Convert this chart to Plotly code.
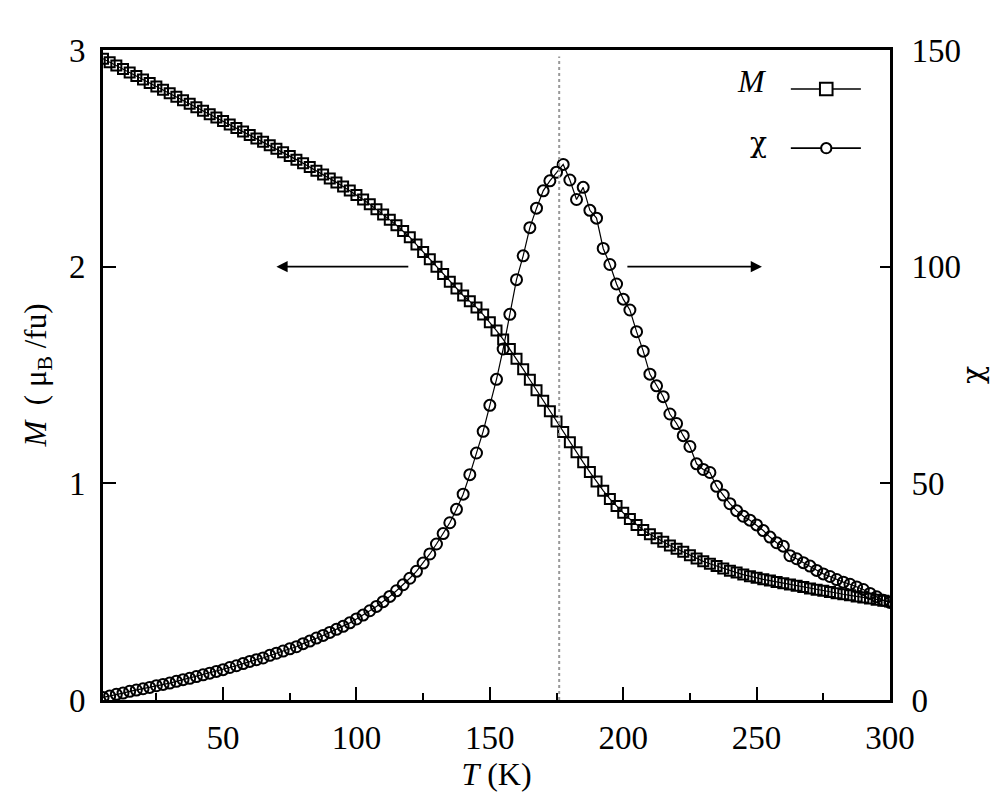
import plotly.graph_objects as go

# ---- data ----
temp_k = [5, 7.5, 10, 12.5, 15, 17.5, 20, 22.5, 25, 27.5, 30, 32.5, 35, 37.5, 40,
          42.5, 45, 47.5, 50, 52.5, 55, 57.5, 60, 62.5, 65, 67.5, 70, 72.5, 75, 77.5,
          80, 82.5, 85, 87.5, 90, 92.5, 95, 97.5, 100, 102.5, 105, 107.5, 110, 112.5,
          115, 117.5, 120, 122.5, 125, 127.5, 130, 132.5, 135, 137.5, 140, 142.5, 145,
          147.5, 150, 152.5, 155, 157.5, 160, 162.5, 165, 167.5, 170, 172.5, 175, 177.5,
          180, 182.5, 185, 187.5, 190, 192.5, 195, 197.5, 200, 202.5, 205, 207.5, 210,
          212.5, 215, 217.5, 220, 222.5, 225, 227.5, 230, 232.5, 235, 237.5, 240, 242.5,
          245, 247.5, 250, 252.5, 255, 257.5, 260, 262.5, 265, 267.5, 270, 272.5, 275,
          277.5, 280, 282.5, 285, 287.5, 290, 292.5, 295, 297.5, 300]

# magnetisation, mu_B per formula unit (left axis)
magnet = [2.960, 2.944, 2.928, 2.912, 2.896, 2.880, 2.864, 2.848, 2.832, 2.816,
          2.800, 2.784, 2.768, 2.752, 2.736, 2.720, 2.704, 2.688, 2.672, 2.656,
          2.640, 2.624, 2.608, 2.592, 2.576, 2.560, 2.544, 2.528, 2.511, 2.494,
          2.477, 2.460, 2.443, 2.425, 2.407, 2.389, 2.370, 2.351, 2.331, 2.310,
          2.288, 2.265, 2.241, 2.216, 2.191, 2.165, 2.136, 2.102, 2.068, 2.034,
          2.000, 1.966, 1.930, 1.899, 1.867, 1.840, 1.812, 1.779, 1.743, 1.705,
          1.664, 1.620, 1.575, 1.527, 1.478, 1.430, 1.381, 1.333, 1.285, 1.237,
          1.190, 1.143, 1.097, 1.052, 1.008, 0.966, 0.928, 0.895, 0.864, 0.835,
          0.808, 0.785, 0.765, 0.747, 0.730, 0.713, 0.698, 0.684, 0.668, 0.653,
          0.640, 0.629, 0.618, 0.607, 0.597, 0.588, 0.579, 0.571, 0.564, 0.557,
          0.551, 0.545, 0.539, 0.533, 0.527, 0.521, 0.515, 0.509, 0.504, 0.498,
          0.493, 0.488, 0.483, 0.478, 0.473, 0.468, 0.463, 0.458, 0.455]

# susceptibility (right axis)
chi = [0.6, 0.9, 1.3, 1.6, 2.0, 2.3, 2.6, 2.9, 3.3, 3.6, 3.9, 4.3, 4.7, 5.0, 5.4,
       5.8, 6.2, 6.6, 7.0, 7.5, 7.9, 8.4, 8.9, 9.3, 9.7, 10.3, 10.8, 11.3, 11.8, 12.3,
       13.0, 13.6, 14.3, 14.9, 15.6, 16.3, 17.0, 17.8, 18.7, 19.6, 20.6, 21.6, 22.7, 23.9,
       25.2, 26.6, 28.1, 29.7, 31.6, 33.7, 36.0, 38.4, 40.9, 44.0, 47.5, 52.0, 57.0,
       62.0, 68.0, 74.0, 81.0, 89.0, 97.0, 102.5, 109.0, 113.5, 117.5, 119.8, 121.8, 123.6,
       120.0, 115.5, 118.3, 113.0, 111.2, 104.2, 100.5, 96.0, 92.5, 90.0, 85.0, 80.5, 75.2,
       72.5, 70.0, 66.0, 63.8, 61.0, 58.5, 54.5, 53.2, 52.5, 49.3, 47.3, 45.3, 43.7,
       42.4, 41.5, 40.4, 39.1, 37.6, 36.3, 35.5, 33.3, 32.6, 31.7, 30.9, 29.9, 29.1,
       28.5, 27.8, 27.2, 26.7, 26.1, 25.5, 24.6, 23.8, 23.0, 22.5]

t_curie = 176  # dotted marker line
x_ticks = [50, 100, 150, 200, 250, 300]
m_ticks = [0, 1, 2, 3]
chi_ticks = [0, 50, 100, 150]

font_fam = "Liberation Serif"
greek_fam = "DejaVu Serif"
ink = "black"

fig = go.Figure()

fig.add_trace(go.Scatter(
    x=temp_k, y=magnet, mode="lines+markers", name="M",
    line=dict(color=ink, width=1.2),
    marker=dict(symbol="square-open", size=10, color=ink, line=dict(width=2)),
    showlegend=False,
))
fig.add_trace(go.Scatter(
    x=temp_k, y=chi, mode="lines+markers", name="χ", yaxis="y2",
    line=dict(color=ink, width=1.2),
    marker=dict(symbol="circle-open", size=11, color=ink, line=dict(width=2)),
    showlegend=False,
))

# dotted vertical line at the transition
fig.add_shape(type="line", xref="x", yref="paper", x0=t_curie, x1=t_curie,
              y0=0, y1=0.99, line=dict(color="#999999", width=2, dash="dot"))

# arrows pointing to each axis
fig.add_annotation(x=70, y=2, ax=120, ay=2, xref="x", yref="y", axref="x", ayref="y",
                   text="", showarrow=True, arrowhead=2, arrowsize=1.4,
                   arrowwidth=1.6, arrowcolor=ink)
fig.add_annotation(x=252, y=2, ax=201, ay=2, xref="x", yref="y", axref="x", ayref="y",
                   text="", showarrow=True, arrowhead=2, arrowsize=1.4,
                   arrowwidth=1.6, arrowcolor=ink)

# hand-made legend: label to the left, symbol on the right
leg_y = [0.94, 0.849]
fig.add_annotation(x=0.846, y=leg_y[0], xref="paper", yref="paper", text="<i>M</i>",
                   showarrow=False, xanchor="right", yanchor="middle", yshift=8,
                   font=dict(size=32, family=font_fam, color=ink))
fig.add_annotation(x=0.846, y=leg_y[1], xref="paper", yref="paper", text="χ",
                   showarrow=False, xanchor="right", yanchor="middle", yshift=6,
                   font=dict(size=28, family=greek_fam, color=ink))
for yy in leg_y:
    fig.add_shape(type="line", xref="paper", yref="paper", x0=0.874, x1=0.963,
                  y0=yy, y1=yy, line=dict(color=ink, width=1.6))
fig.add_shape(type="rect", xref="paper", yref="paper", x0=0.911, x1=0.927,
              y0=leg_y[0] - 0.0095, y1=leg_y[0] + 0.0095,
              line=dict(color=ink, width=2), fillcolor="white")
fig.add_shape(type="circle", xref="paper", yref="paper", x0=0.9125, x1=0.9255,
              y0=leg_y[1] - 0.008, y1=leg_y[1] + 0.008,
              line=dict(color=ink, width=2), fillcolor="white")

tick_font = dict(size=33, family=font_fam, color=ink)

fig.update_layout(
    width=1000, height=800,
    margin=dict(l=103, r=110, t=50, b=100),
    paper_bgcolor="white", plot_bgcolor="white",
    font=dict(family=font_fam, color=ink),
    xaxis=dict(
        range=[5, 300], tickvals=x_ticks, ticks="inside", ticklen=13, tickwidth=2,
        tickcolor=ink, showline=True, linecolor=ink, linewidth=3, mirror=True,
        showgrid=False, zeroline=False, tickfont=tick_font, ticklabelstandoff=6,
        automargin=False,
        minor=dict(tickvals=[25, 75, 125, 175, 225, 275], ticks="inside",
                   ticklen=7, tickwidth=2, tickcolor=ink),
        title=dict(text="<i>T</i> (K)", font=dict(size=32, family=font_fam), standoff=0),
    ),
    yaxis=dict(
        range=[0, 3], tickvals=m_ticks, ticks="inside", ticklen=13, tickwidth=2,
        tickcolor=ink, showline=True, linecolor=ink, linewidth=3,
        showgrid=False, zeroline=False, tickfont=tick_font, ticklabelstandoff=8,
        automargin=False,
        title=dict(text="<i>M</i>  ( μ<sub>B</sub> /fu)", font=dict(size=31, family=font_fam),
                   standoff=14),
    ),
    yaxis2=dict(
        range=[0, 150], tickvals=chi_ticks, ticks="inside", ticklen=10, tickwidth=2,
        tickcolor=ink, showline=True, linecolor=ink, linewidth=3,
        overlaying="y", side="right", anchor="x", automargin=False,
        showgrid=False, zeroline=False, tickfont=tick_font, ticklabelstandoff=12,
        title=dict(text="χ", font=dict(size=30, family=greek_fam), standoff=2),
    ),
)

fig.write_html("out.html", config={"displayModeBar": False},
               post_script="document.body.style.margin='0';")
